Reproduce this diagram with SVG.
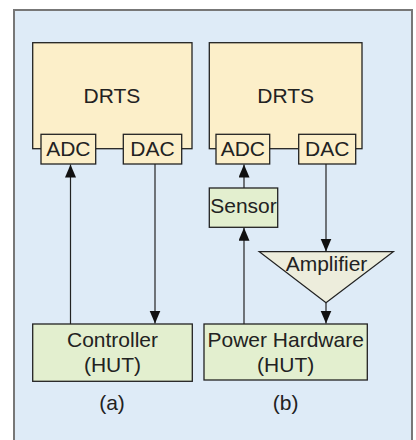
<svg xmlns="http://www.w3.org/2000/svg" width="416" height="440" viewBox="0 0 416 440">
<style>
text{font-family:"Liberation Sans",Arial,sans-serif;font-size:21px;fill:#222;text-anchor:middle}
.drts{fill:#fcefc9;stroke:#222;stroke-width:1.3}
.port{fill:#fcefc9;stroke:#222;stroke-width:1.3}
.hut{fill:#e3efcf;stroke:#222;stroke-width:1.3}
.amp{fill:#ededdc;stroke:#222;stroke-width:1.3}
.conn{stroke:#222;stroke-width:1.2;fill:none;marker-end:url(#ah)}
</style>
<defs>
<marker id="ah" markerUnits="userSpaceOnUse" markerWidth="14" markerHeight="12" viewBox="0 0 14 12" refX="13" refY="5.5" orient="auto">
<path d="M0,0 L13,5.5 L0,11 z" fill="#111"/>
</marker>
</defs>
<rect x="14" y="10" width="398" height="440" fill="#deebf7" stroke="#777" stroke-width="2"/>
<g id="drts-a">
<rect class="drts" x="32.7" y="42.7" width="159.3" height="106"/>
<text x="112" y="102.7">DRTS</text>
</g>
<g id="adc-a">
<rect class="port" x="41" y="134.3" width="54.7" height="29.7"/>
<text x="68.3" y="156">ADC</text>
</g>
<g id="dac-a">
<rect class="port" x="123.3" y="134.3" width="58.4" height="29.7"/>
<text x="152.5" y="156">DAC</text>
</g>
<g id="controller">
<rect class="hut" x="32.7" y="324" width="159.6" height="57.3"/>
<text x="112.5" y="347">Controller</text>
<text x="112.5" y="371.7">(HUT)</text>
</g>
<g id="label-a"><text x="112" y="410">(a)</text></g>
<g id="drts-b">
<rect class="drts" x="209.3" y="42.7" width="152.7" height="106"/>
<text x="285.7" y="102.7">DRTS</text>
</g>
<g id="adc-b">
<rect class="port" x="216" y="134.3" width="53.7" height="29.7"/>
<text x="242.8" y="156">ADC</text>
</g>
<g id="dac-b">
<rect class="port" x="298.7" y="134.3" width="57" height="29.7"/>
<text x="327.2" y="156">DAC</text>
</g>
<g id="sensor">
<rect class="hut" x="209.3" y="188" width="68.4" height="39.3"/>
<text x="243.5" y="213.3">Sensor</text>
</g>
<g id="amplifier">
<polygon class="amp" points="259.3,251.7 393.3,251.7 326,302.7"/>
<text x="326.5" y="270.5">Amplifier</text>
</g>
<g id="power-hardware">
<rect class="hut" x="204" y="324" width="163.3" height="56"/>
<text x="285.7" y="346.7">Power Hardware</text>
<text x="285.7" y="371.7">(HUT)</text>
</g>
<g id="label-b"><text x="285.7" y="410">(b)</text></g>
<g id="connectors">
<line class="conn" x1="70.5" y1="324" x2="70.5" y2="164.5"/>
<line class="conn" x1="155" y1="164" x2="155" y2="323.5"/>
<line class="conn" x1="244" y1="188" x2="244" y2="164.5"/>
<line class="conn" x1="244" y1="324" x2="244" y2="227.8"/>
<line class="conn" x1="326" y1="164" x2="326" y2="251.5"/>
<line class="conn" x1="326" y1="302.7" x2="326" y2="323.5"/>
</g>
</svg>
